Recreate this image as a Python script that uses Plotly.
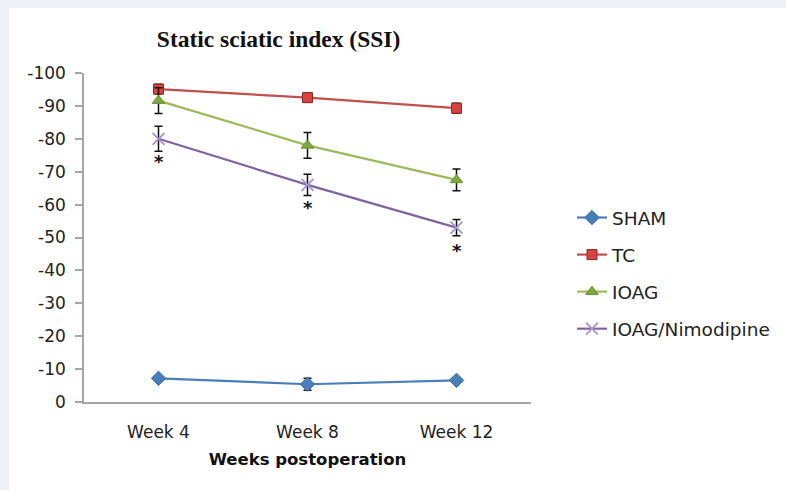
import plotly.graph_objects as go

# Static sciatic index per group across postoperative weeks
weeks = ["Week 4", "Week 8", "Week 12"]
sham = [-7.2, -5.4, -6.6]
sham_err = [0.8, 1.8, 0.6]
tc = [-95.1, -92.5, -89.3]
tc_err = [1.5, 1.4, 1.5]
ioag = [-91.6, -78.0, -67.5]
ioag_err = [3.9, 3.9, 3.3]
ioag_nimo = [-80.0, -66.0, -53.0]
ioag_nimo_err = [3.8, 3.2, 2.5]

y_ticks = [0, -10, -20, -30, -40, -50, -60, -70, -80, -90, -100]
y_ticktext = ["0", "-10", "-20", "-30", "-40", "-50", "-60", "-70", "-80", "-90", "-100"]

# pixel geometry of the plot frame
W, H = 786, 490
L, R, T, B = 84, 532, 73, 402

TICK_FONT = "DejaVu Sans"

series = [
    ("SHAM", sham, sham_err, "#4a7ebb", dict(symbol="diamond", size=11, color="#4a7ebb",
                                             line=dict(color="#3b6aa0", width=1))),
    ("TC", tc, tc_err, "#c0504d", dict(symbol="square", size=10, color="#d9423f",
                                       line=dict(color="#8c2a28", width=1))),
    ("IOAG", ioag, ioag_err, "#9bbb59", dict(symbol="triangle-up", size=11, color="#7fa83e",
                                             line=dict(color="#6a8f33", width=1))),
    ("IOAG/Nimodipine", ioag_nimo, ioag_nimo_err, "#8064a2",
     dict(symbol="x-thin", size=12, color="#a594cf", line=dict(color="#a594cf", width=1.8))),
]

fig = go.Figure()
for i, (name, vals, errs, col, mk) in enumerate(series):
    fig.add_trace(go.Scatter(
        x=weeks, y=vals, name=name, mode="lines+markers",
        line=dict(color=col, width=2.2),
        marker=mk,
        legendgroup=f"g{i}",
        error_y=dict(type="data", array=errs, visible=True,
                     color="#111111", thickness=1.5, width=4),
    ))

# significance markers below the IOAG/Nimodipine points
for w, v in zip(weeks, ioag_nimo):
    fig.add_annotation(x=w, y=v, text="<b>*</b>", showarrow=False, yshift=-23,
                       font=dict(family="DejaVu Sans", size=18, color="#111111"))

# white panel over the light page background
fig.add_shape(type="rect", xref="paper", yref="paper", layer="below",
              x0=(9 - L) / (R - L), x1=(W + 5 - L) / (R - L),
              y0=(B - (H + 5)) / (B - T), y1=(B - 8) / (B - T),
              fillcolor="white", line=dict(width=0))

fig.update_layout(
    width=W, height=H,
    margin=dict(l=L, r=W - R, t=T, b=H - B),
    paper_bgcolor="#eef0f7",
    plot_bgcolor="rgba(0,0,0,0)",
    title=dict(text="<b>Static sciatic index (SSI)</b>",
               font=dict(family="Liberation Serif", size=23.5, color="#111111"),
               x=(279 - L) / (R - L), xref="paper", xanchor="center",
               y=1 - 39 / H, yanchor="middle"),
    legend=dict(x=(572 - L) / (R - L), xanchor="left",
                y=(B - 199) / (B - T), yanchor="top",
                font=dict(family=TICK_FONT, size=18.5, color="#222222"),
                tracegroupgap=10, traceorder="grouped",
                bgcolor="rgba(0,0,0,0)"),
    xaxis=dict(
        type="category", range=[-0.5, 2.5],
        showline=True, linecolor="#a6a6a6", linewidth=1.5,
        showgrid=False, zeroline=False,
        ticks="outside", ticklen=14, tickcolor="rgba(0,0,0,0)",
        tickfont=dict(family=TICK_FONT, size=17, color="#222222"),
        title=dict(text="<b>Weeks postoperation</b>", standoff=12,
                   font=dict(family=TICK_FONT, size=16.5, color="#111111")),
    ),
    yaxis=dict(
        range=[0, -100],
        tickvals=y_ticks, ticktext=y_ticktext,
        showline=True, linecolor="#a6a6a6", linewidth=1.5,
        showgrid=False, zeroline=False,
        ticks="outside", ticklen=7, tickcolor="#a6a6a6", tickwidth=1.5,
        ticklabelstandoff=6,
        tickfont=dict(family=TICK_FONT, size=17, color="#222222"),
    ),
    showlegend=True,
)

fig.write_html("out.html")
